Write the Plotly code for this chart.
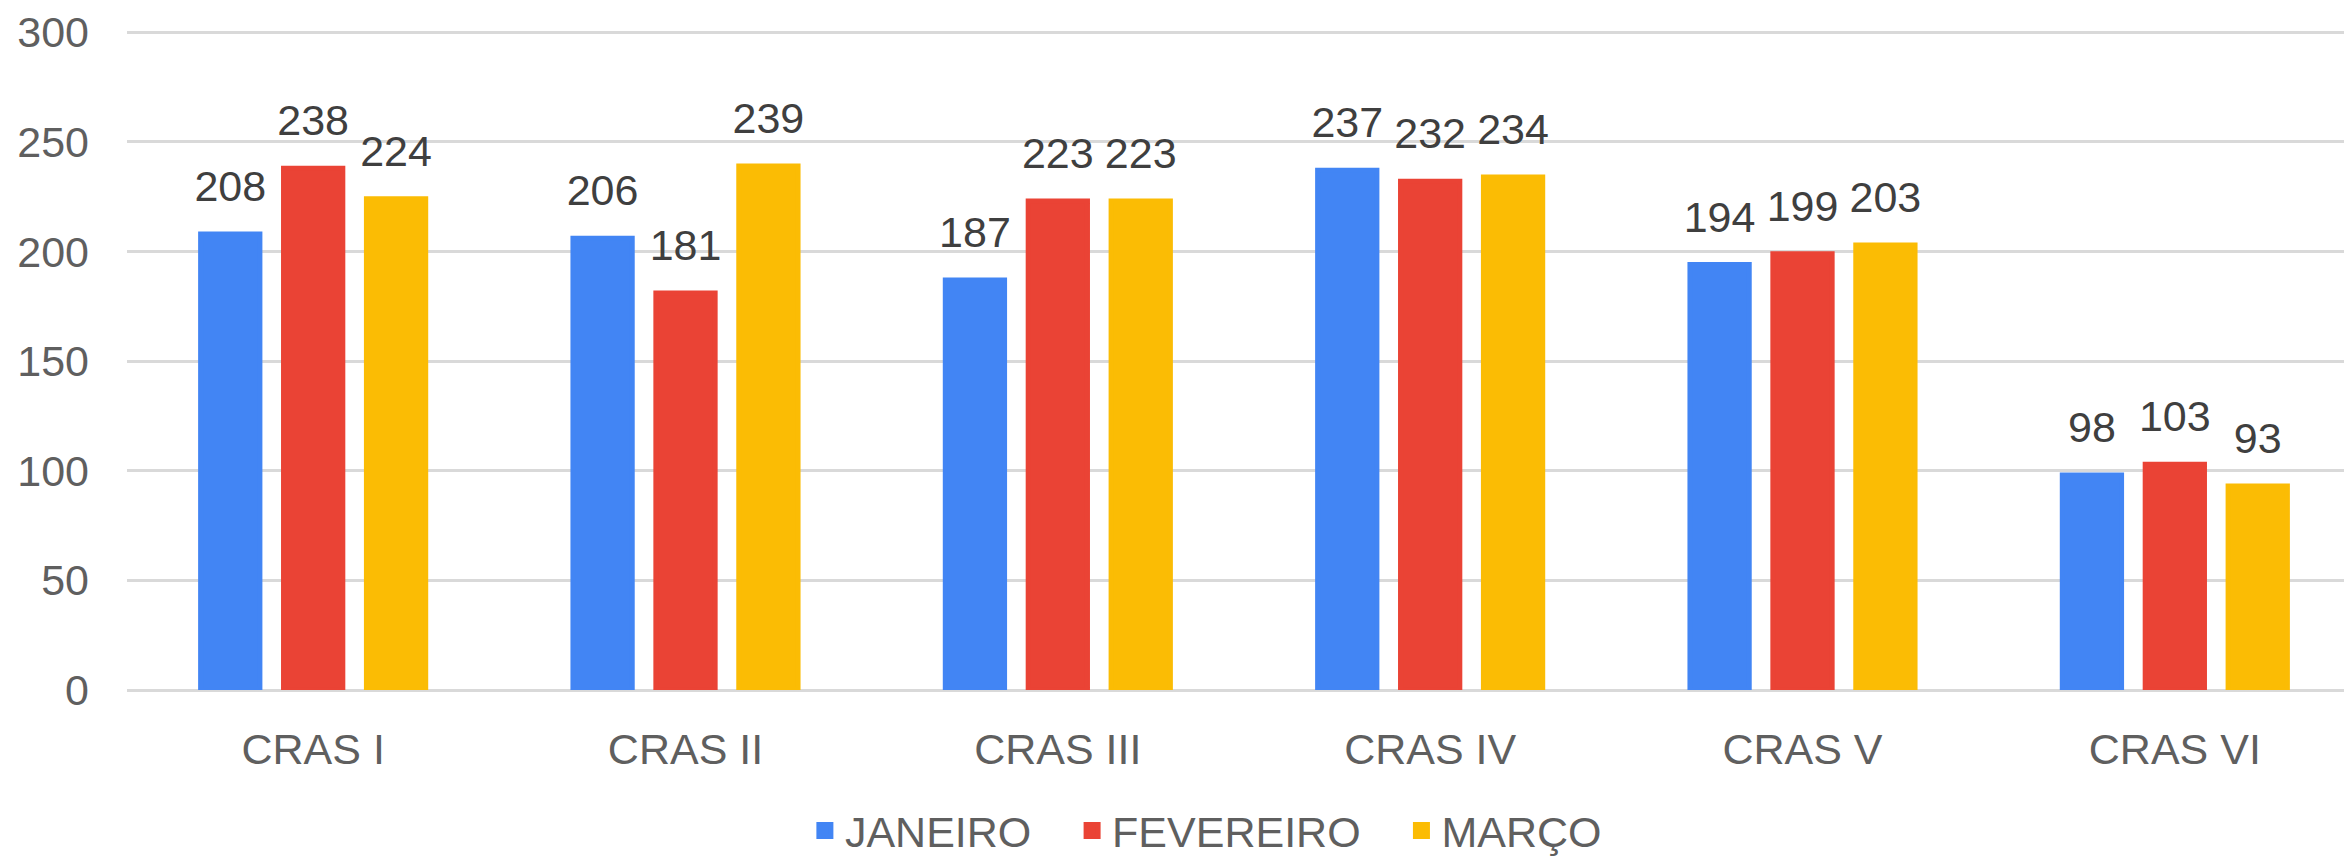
import plotly.graph_objects as go

categories = ["CRAS I", "CRAS II", "CRAS III", "CRAS IV", "CRAS V", "CRAS VI"]
janeiro = [208, 206, 187, 237, 194, 98]
fevereiro = [238, 181, 223, 232, 199, 103]
marco = [224, 239, 223, 234, 203, 93]

series = [
    ("JANEIRO", janeiro, "#4285F4"),
    ("FEVEREIRO", fevereiro, "#EA4335"),
    ("MARÇO", marco, "#FBBC04"),
]

FONT = "Liberation Sans, Arial, sans-serif"
fig = go.Figure()

for name, values, color in series:
    # trailing nbsp widens the gap between legend entries
    fig.add_trace(go.Bar(
        x=categories, y=values, name=name + "\u00a0\u00a0\u00a0",
        marker=dict(color=color, line=dict(width=5, color=color)),
        offsetgroup=name,
    ))

# value labels: invisible markers push the text up above each bar
for name, values, color in series:
    fig.add_trace(go.Scatter(
        x=categories, y=values, mode="markers+text",
        text=[str(v) for v in values], textposition="top center",
        textfont=dict(family=FONT, size=43, color="#3f3f3f"),
        marker=dict(size=34, opacity=0),
        offsetgroup=name, showlegend=False, hoverinfo="skip",
        cliponaxis=False,
    ))

# page body has an 8px margin, so the figure is offset by 8px
fig.update_layout(
    width=2353, height=851,
    margin=dict(l=119, r=0, t=22, b=169, autoexpand=False),
    paper_bgcolor="white", plot_bgcolor="white",
    barmode="group", bargap=0.332, bargroupgap=0.285,
    scattermode="group", scattergap=0.332,
    font=dict(family=FONT, size=43, color="#5f5f5f"),
    legend=dict(
        orientation="h", x=0.491, xanchor="center", y=-0.213, yanchor="middle",
        font=dict(size=43, color="#5f5f5f"), itemwidth=30,
    ),
)
fig.update_yaxes(
    range=[0, 301], dtick=50, showgrid=True, gridcolor="#d9d9d9", gridwidth=3,
    zeroline=True, zerolinecolor="#d9d9d9", zerolinewidth=3,
    showline=False, ticks="", ticklabelstandoff=37, automargin=False,
)
fig.update_xaxes(showline=False, ticks="", ticklabelstandoff=30, automargin=False)

fig.write_html("out.html")
